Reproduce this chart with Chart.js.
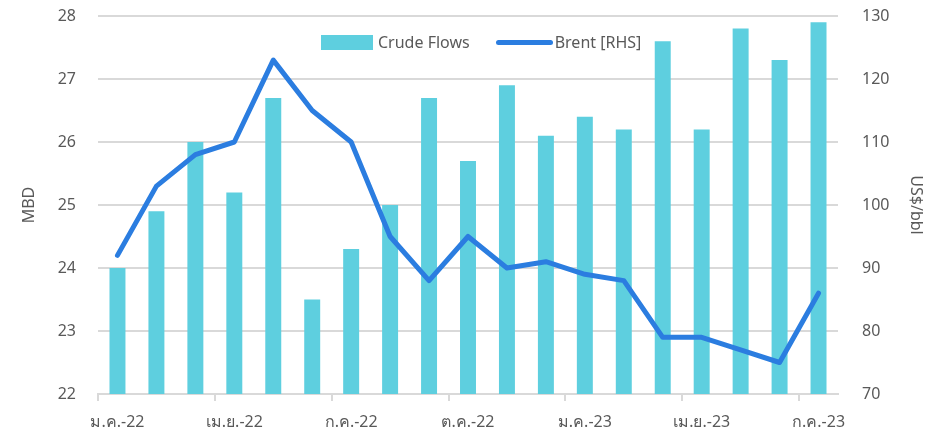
<!DOCTYPE html>
<html>
<head>
<meta charset="utf-8">
<script src="https://cdn.jsdelivr.net/npm/chart.js@4.4.0/dist/chart.umd.min.js"></script>
<style>
  body { margin: 0; background: #fff; }
  #wrap { position: relative; width: 937px; height: 436px; }
  .legend { position: absolute; top: 31px; left: 321px; display: flex; align-items: center;
    font-family: "Noto Sans", "DejaVu Sans", sans-serif; font-size: 16px; color: #595959; }
  .legend .box { width: 52px; height: 15px; background: #5ECFDF; margin-right: 5px; }
  .legend .ln { width: 57px; height: 5px; border-radius: 3px; background: #2B7DE0; margin-left: 26px; margin-right: 2px; }
</style>
</head>
<body>
<div id="wrap">
  <canvas id="chart" width="937" height="436"></canvas>
  <div class="legend">
    <span class="box"></span><span>Crude Flows</span>
    <span class="ln"></span><span>Brent [RHS]</span>
  </div>
</div>
<script>
// เดือน ม.ค.-22 ถึง ก.ค.-23
const labels = ['ม.ค.-22','ก.พ.-22','มี.ค.-22','เม.ย.-22','พ.ค.-22','มิ.ย.-22','ก.ค.-22','ส.ค.-22','ก.ย.-22',
  'ต.ค.-22','พ.ย.-22','ธ.ค.-22','ม.ค.-23','ก.พ.-23','มี.ค.-23','เม.ย.-23','พ.ค.-23','มิ.ย.-23','ก.ค.-23'];
// Crude Flows (MBD)
const crudeFlows = [24.0, 24.9, 26.0, 25.2, 26.7, 23.5, 24.3, 25.0, 26.7, 25.7, 26.9, 26.1, 26.4, 26.2, 27.6, 26.2, 27.8, 27.3, 27.9];
// Brent (US$/bbl, แกนขวา)
const brent = [92, 103, 108, 110, 123, 115, 110, 95, 88, 95, 90, 91, 89, 88, 79, 79, 77, 75, 86];

const grey = '#595959';
const gridGrey = '#d9d9d9';
const font = { family: '"Noto Sans", "DejaVu Sans", sans-serif', size: 16 };

// fix the side axes so the plot area sits where the original one does
const fitSide = (w) => (s) => { s.width = w; s.paddingTop = 0; s.paddingBottom = 0; };

const ctx = document.getElementById('chart').getContext('2d');
new Chart(ctx, {
  data: {
    labels: labels,
    datasets: [
      {
        type: 'line',
        label: 'Brent [RHS]',
        data: brent,
        yAxisID: 'y1',
        borderColor: '#2B7DE0',
        borderWidth: 5,
        borderCapStyle: 'round',
        borderJoinStyle: 'round',
        pointRadius: 0,
        tension: 0,
        order: 0
      },
      {
        type: 'bar',
        label: 'Crude Flows',
        data: crudeFlows,
        yAxisID: 'y',
        backgroundColor: '#5ECFDF',
        barPercentage: 0.41,
        categoryPercentage: 1,
        order: 1
      }
    ]
  },
  options: {
    responsive: false,
    animation: false,
    layout: { padding: { top: 16, left: 0, right: 0, bottom: 0 } },
    plugins: { legend: { display: false }, tooltip: { enabled: false } },
    scales: {
      x: {
        offset: true,
        afterFit: (s) => { s.height = 42; s.paddingLeft = 0; s.paddingRight = 0; },
        grid: {
          offset: true,
          drawOnChartArea: false,
          tickLength: 7,
          lineWidth: 2,
          color: (c) => (c.index % 3 === 0 ? gridGrey : 'rgba(0,0,0,0)')
        },
        border: { color: gridGrey, width: 2 },
        ticks: {
          autoSkip: false,
          maxRotation: 0,
          color: grey,
          font: font,
          padding: 12,
          callback: (v, i) => (i % 3 === 0 ? labels[i] : '')
        }
      },
      y: {
        position: 'left',
        min: 22,
        max: 28,
        afterFit: fitSide(98),
        grid: { color: gridGrey, lineWidth: 2, drawTicks: false },
        border: { display: false },
        ticks: { stepSize: 1, color: grey, font: font, padding: 22 },
        title: { display: true, text: 'MBD', color: grey, font: font, padding: { top: 20, bottom: 0 } }
      },
      y1: {
        position: 'right',
        min: 70,
        max: 130,
        afterFit: fitSide(99),
        grid: { drawOnChartArea: false, drawTicks: false },
        border: { display: false },
        ticks: { stepSize: 10, color: grey, font: font, padding: 24 },
        title: { display: true, text: 'US$/bbl', color: grey, font: font, padding: { top: 12, bottom: 0 } }
      }
    }
  }
});
</script>
</body>
</html>
